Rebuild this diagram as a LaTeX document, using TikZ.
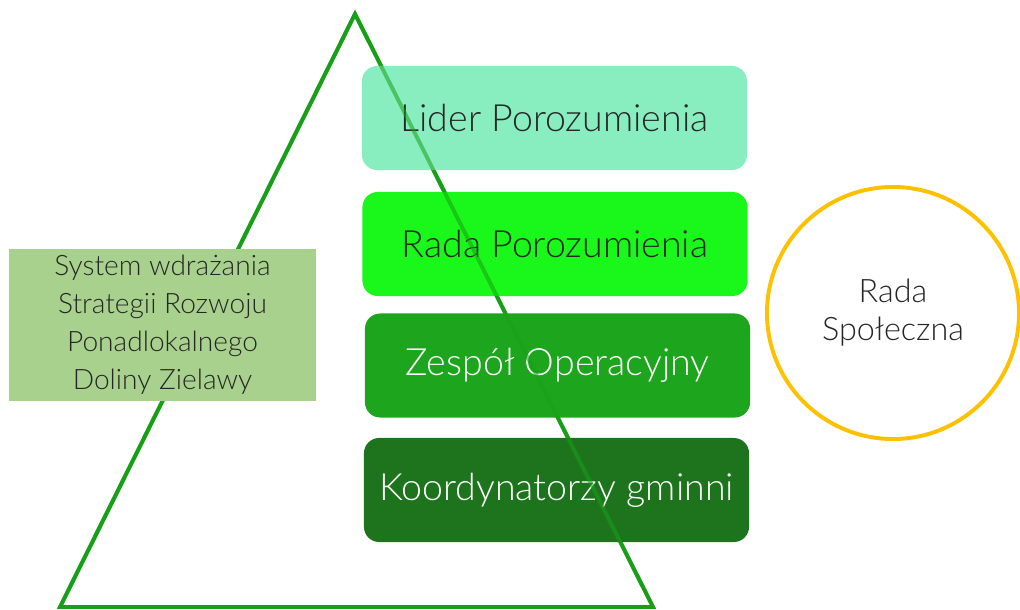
\documentclass[tikz,border=0pt]{standalone}
\usepackage{fontspec}
\setmainfont{Lato Light}
\usetikzlibrary{positioning}
\definecolor{trigreen}{HTML}{17A017}
\definecolor{liderfill}{HTML}{88EEC0}
\definecolor{radafill}{HTML}{1AF71A}
\definecolor{zespolfill}{HTML}{1EA51E}
\definecolor{koordfill}{HTML}{1D741D}
\definecolor{sysfill}{HTML}{A9D18E}
\definecolor{rsring}{HTML}{FFC000}
\tikzset{
  pyramid/.style={trigreen, line width=2.8pt, line join=miter},
  level/.style={rounded corners=0.38cm, minimum width=9.625cm, minimum height=2.6cm,
    font=\fontsize{26.7}{30}\selectfont},
  sysbox/.style={fill=sysfill, minimum width=7.675cm, minimum height=3.8cm,
    align=center, text=black!85, font=\fontsize{20}{27}\selectfont},
  council/.style={circle, draw=rsring, line width=2.8pt, minimum size=6.3cm,
    align=center, text=black!85, font=\fontsize{23}{27}\selectfont}
}
\newcommand{\pyramidpath}{(355,14) -- (653,607) -- (60,607) -- cycle}
\begin{document}
\begin{tikzpicture}[x=0.025cm, y=-0.025cm]
\useasboundingbox (0,0) rectangle (1020,610);
% pyramid outline
\draw[pyramid] \pyramidpath;
% levels
\node[level, fill=liderfill, text=black!85] (lider) at (554.5,118) {Lider Porozumienia};
\node[level, fill=radafill, text=black!85] (rada) at (555,244) {Rada Porozumienia};
\node[level, fill=zespolfill, text=white] (zespol) at (557.5,365.5) {Zespół Operacyjny};
\node[level, fill=koordfill, text=white] (koord) at (556.5,490) {Koordynatorzy gminni};
% outline seen through the levels
\draw[pyramid, draw opacity=0.55] \pyramidpath;
% side boxes
\node[sysbox] (system) at (162.5,325) {System wdrażania\\Strategii Rozwoju\\Ponadlokalnego\\Doliny Zielawy};
\node[council] (spol) at (893,313) {Rada\\Społeczna};
\end{tikzpicture}
\end{document}
